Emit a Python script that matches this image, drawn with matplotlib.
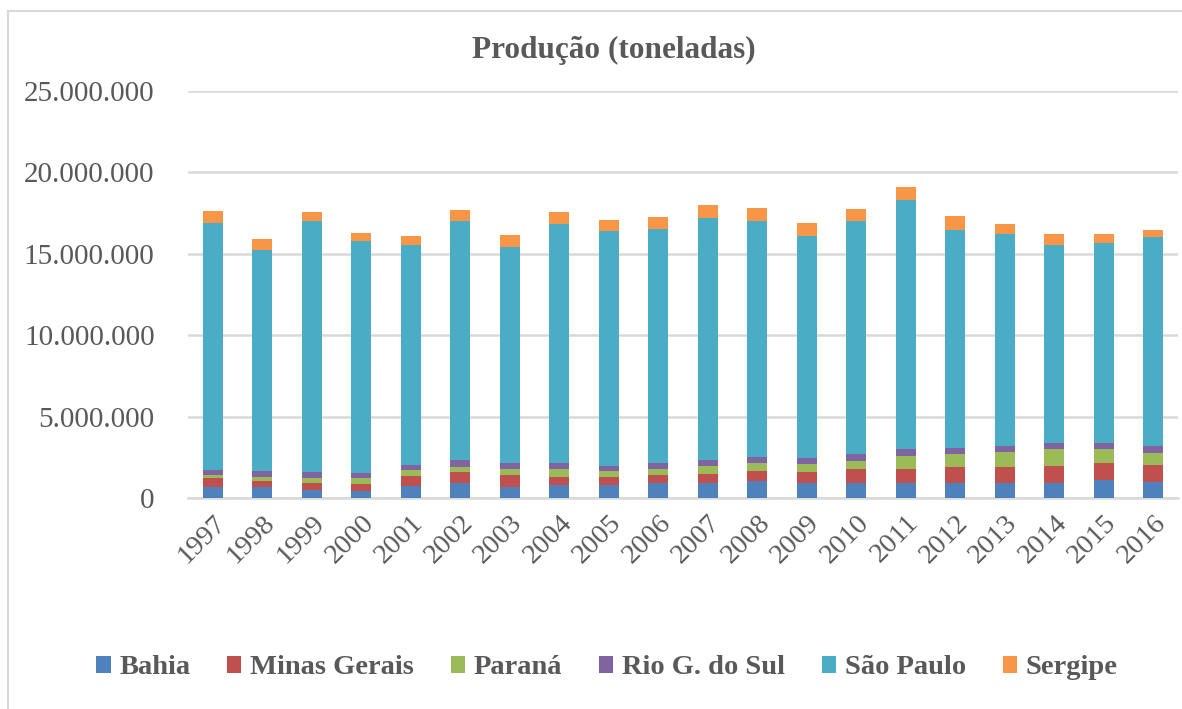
import matplotlib
matplotlib.use('Agg')
import matplotlib.pyplot as plt
from matplotlib.ticker import FuncFormatter
import numpy as np

anos = ['1997', '1998', '1999', '2000', '2001', '2002', '2003', '2004', '2005', '2006',
        '2007', '2008', '2009', '2010', '2011', '2012', '2013', '2014', '2015', '2016']

# produção em toneladas
bahia = [700000, 700000, 500000, 450000, 730000, 900000, 700000, 800000, 800000, 900000,
         900000, 1050000, 900000, 940000, 940000, 940000, 940000, 940000, 1100000, 1000000]
minas = [500000, 350000, 450000, 400000, 640000, 720000, 720000, 520000, 520000, 520000,
         600000, 630000, 720000, 820000, 820000, 940000, 940000, 1020000, 1020000, 1020000]
parana = [200000, 250000, 300000, 400000, 350000, 300000, 350000, 450000, 350000, 350000,
          450000, 450000, 450000, 530000, 820000, 840000, 920000, 1020000, 920000, 760000]
rio_sul = [350000, 350000, 350000, 300000, 300000, 400000, 400000, 370000, 320000, 350000,
           370000, 370000, 370000, 390000, 410000, 370000, 390000, 370000, 350000, 430000]
sao_paulo = [15150000, 13610000, 15400000, 14250000, 13540000, 14670000, 13250000, 14710000, 14380000, 14430000,
             14880000, 14500000, 13680000, 14320000, 15310000, 13390000, 13010000, 12210000, 12270000, 12800000]
sergipe = [700000, 670000, 560000, 500000, 540000, 730000, 720000, 710000, 720000, 710000,
           820000, 830000, 780000, 730000, 800000, 820000, 650000, 660000, 560000, 480000]

series = [
    ('Bahia', bahia, '#4F81BD'),
    ('Minas Gerais', minas, '#C0504D'),
    ('Paraná', parana, '#9BBB59'),
    ('Rio G. do Sul', rio_sul, '#8064A2'),
    ('São Paulo', sao_paulo, '#4BACC6'),
    ('Sergipe', sergipe, '#F79646'),
]

cinza = '#595959'
plt.rcParams['font.family'] = ['Liberation Serif', 'DejaVu Serif']

fig = plt.figure(figsize=(11.82, 7.09), dpi=100)
ax = fig.add_axes([188 / 1182, 1 - 498 / 709, (1178 - 188) / 1182, (498 - 91) / 709])

x = np.arange(len(anos))
base = np.zeros(len(anos))
for nome, valores, cor in series:
    ax.bar(x, valores, width=0.4, bottom=base, color=cor, label=nome, zorder=3)
    base = base + np.array(valores)

ax.set_ylim(0, 25000000)
ax.set_xlim(-0.5, 19.5)
ax.set_yticks(np.arange(0, 25000001, 5000000))
ax.yaxis.set_major_formatter(FuncFormatter(lambda v, p: f'{int(v):,}'.replace(',', '.')))
ax.set_xticks(x)
ax.set_xticklabels(anos, rotation=45, ha='right', rotation_mode='anchor')
ax.tick_params(axis='y', length=0, labelsize=21, labelcolor=cinza, pad=24)
ax.tick_params(axis='x', length=0, labelsize=20.5, labelcolor=cinza, pad=9)

ax.grid(axis='y', color='#D9D9D9', linewidth=1.8, zorder=0)
for s in ['top', 'right', 'left']:
    ax.spines[s].set_visible(False)
ax.spines['bottom'].set_color('#D9D9D9')
ax.spines['bottom'].set_linewidth(1.8)

fig.text(614 / 1182, 1 - 50 / 709, 'Produção (toneladas)', ha='center', va='center',
         fontsize=22.5, fontweight='bold', color=cinza)

fig.legend(loc='center', bbox_to_anchor=(607 / 1182, 1 - 668 / 709), ncol=6, frameon=False,
           prop={'size': 20.5, 'weight': 'bold'}, labelcolor=cinza, handlelength=0.5,
           handleheight=0.5, handletextpad=0.3, columnspacing=1.3)

# moldura do gráfico
fig.add_artist(plt.Line2D([8 / 1182, 8 / 1182], [0, 1 - 11 / 709], transform=fig.transFigure,
                          color='#D9D9D9', linewidth=1.5))
fig.add_artist(plt.Line2D([8 / 1182, 1], [1 - 11 / 709, 1 - 11 / 709], transform=fig.transFigure,
                          color='#D9D9D9', linewidth=1.5))

fig.savefig('out.png', dpi=100)
